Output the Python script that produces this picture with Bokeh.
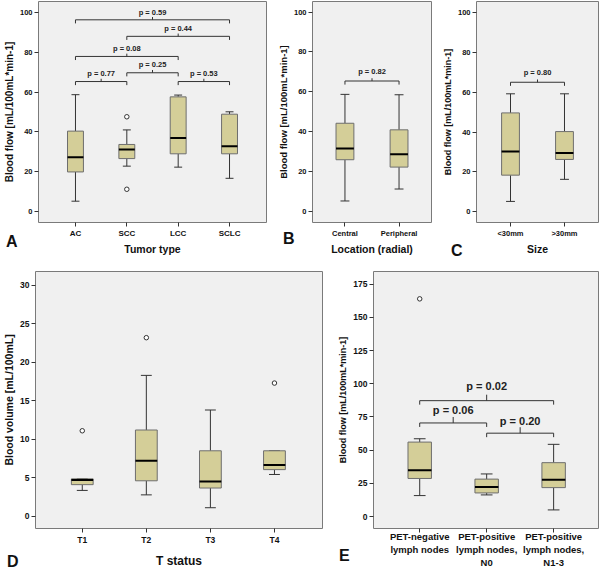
from bokeh.plotting import figure
from bokeh.models import Range1d, FixedTicker, Div
from bokeh.layouts import column, row
from bokeh.embed import file_html
from bokeh.resources import INLINE
from bokeh.core.properties import value

FONT = "Liberation Sans"
BOX_FILL = "#D4CE98"
BOX_LINE = "#6E6E6E"
FRAME_BG = "#F0F0F0"
FRAME_LINE = "#7A7A7A"
WHISK = "#333333"
BRK = "#333333"

# ---------------- Panel A: Tumor type ----------------
a_cats = ["AC", "SCC", "LCC", "SCLC"]
a_wlo = [5.2, 22.8, 22.3, 16.7]
a_q1 = [19.9, 26.6, 29.0, 29.0]
a_med = [27.3, 31.2, 37.0, 32.8]
a_q3 = [40.4, 33.7, 57.6, 48.9]
a_whi = [58.7, 41.0, 58.5, 50.1]
a_out_cat = ["SCC", "SCC"]
a_out_val = [47.6, 11.2]
a_p_lab = ["p = 0.77", "p = 0.25", "p = 0.53", "p = 0.08", "p = 0.44", "p = 0.59"]
a_p_from = ["AC", "SCC", "LCC", "AC", "SCC", "AC"]
a_p_to = ["SCC", "LCC", "SCLC", "LCC", "SCLC", "SCLC"]
a_p_line = [65.3, 69.7, 65.3, 77.9, 88.0, 96.3]
a_p_text = [69.5, 73.7, 69.5, 82.0, 92.0, 99.8]

# ---------------- Panel B: Location ----------------
b_cats = ["Central", "Peripheral"]
b_wlo = [5.2, 11.2]
b_q1 = [25.9, 22.2]
b_med = [31.5, 28.7]
b_q3 = [44.2, 40.9]
b_whi = [58.7, 58.5]
b_p_lab = ["p = 0.82"]
b_p_from = ["Central"]
b_p_to = ["Peripheral"]
b_p_line = [65.4]
b_p_text = [70.2]

# ---------------- Panel C: Size ----------------
c_cats = ["<30mm", ">30mm"]
c_wlo = [5.2, 16.3]
c_q1 = [18.4, 26.3]
c_med = [30.3, 29.5]
c_q3 = [49.7, 40.3]
c_whi = [59.3, 59.3]
c_p_lab = ["p = 0.80"]
c_p_from = ["<30mm"]
c_p_to = [">30mm"]
c_p_line = [65.1]
c_p_text = [70.0]

# ---------------- Panel D: T status ----------------
d_cats = ["T1", "T2", "T3", "T4"]
d_wlo = [3.35, 2.77, 1.1, 5.42]
d_q1 = [4.1, 4.6, 3.66, 6.05]
d_med = [4.7, 7.2, 4.5, 6.65]
d_q3 = [4.85, 11.2, 8.5, 8.5]
d_whi = [4.85, 18.3, 13.8, 8.5]
d_out_cat = ["T1", "T2", "T4"]
d_out_val = [11.1, 23.2, 17.3]

# ---------------- Panel E: PET lymph nodes ----------------
e_cats = ["PET-negative lymph nodes", "PET-positive lymph nodes, N0", "PET-positive lymph nodes, N1-3"]
e_ticks = ["PET-negative\nlymph nodes", "PET-positive\nlymph nodes,\nN0", "PET-positive\nlymph nodes,\nN1-3"]
e_wlo = [15.8, 16.3, 5.0]
e_q1 = [28.7, 17.8, 21.8]
e_med = [34.9, 22.3, 27.7]
e_q3 = [56.1, 28.2, 40.6]
e_whi = [58.6, 32.1, 54.4]
e_out_cat = ["PET-negative lymph nodes"]
e_out_val = [164.0]
e_p_lab = ["p = 0.06", "p = 0.20", "p = 0.02"]
e_p_from = [e_cats[0], e_cats[1], e_cats[0]]
e_p_to = [e_cats[1], e_cats[2], e_cats[2]]
e_p_line = [70.5, 62.8, 87.3]
e_p_text = [80.1, 71.7, 98.2]

panel_letters = ["A", "B", "C", "D", "E"]


def make_panel(cats, tick_text, wlo, q1, med, q3, whi, out_c, out_v,
               p_lab, p_from, p_to, p_line, p_text,
               W, H, bl, br, bt, bb, xr, yr, yticks,
               ylabel, xlabel, xtick_size, ytick_size, ylab_size, xlab_size,
               p_size, box_w, drop, tip, out_size=4.5, lab_standoff=2, axl_standoff=2):
    p = figure(width=W, height=H, output_backend="svg", toolbar_location=None,
               x_range=Range1d(*xr), y_range=Range1d(*yr),
               min_border_left=bl, min_border_right=br,
               min_border_top=bt, min_border_bottom=bb)
    p.background_fill_color = FRAME_BG
    p.border_fill_color = "white"
    p.outline_line_color = FRAME_LINE
    p.outline_line_width = 1
    p.grid.visible = False

    xs = list(range(len(cats)))
    cw = box_w * 0.5
    p.segment(x0=xs, y0=q3, x1=xs, y1=whi, line_color=WHISK, line_width=1)
    p.segment(x0=xs, y0=wlo, x1=xs, y1=q1, line_color=WHISK, line_width=1)
    p.segment(x0=[x - cw / 2 for x in xs], y0=whi, x1=[x + cw / 2 for x in xs], y1=whi,
              line_color=WHISK, line_width=1)
    p.segment(x0=[x - cw / 2 for x in xs], y0=wlo, x1=[x + cw / 2 for x in xs], y1=wlo,
              line_color=WHISK, line_width=1)
    p.vbar(x=xs, width=box_w, top=q3, bottom=q1, fill_color=BOX_FILL,
           line_color=BOX_LINE, line_width=1)
    p.segment(x0=[x - box_w / 2 for x in xs], y0=med, x1=[x + box_w / 2 for x in xs], y1=med,
              line_color="black", line_width=2)
    if out_c:
        p.scatter(x=[cats.index(c) for c in out_c], y=out_v, marker="circle", size=out_size,
                  fill_color="white", line_color=WHISK, line_width=1)
    if p_lab:
        bx, by, tx = [], [], []
        for f, t, yl in zip(p_from, p_to, p_line):
            a, b = cats.index(f), cats.index(t)
            m = (a + b) / 2
            bx.append([a, a, b, b])
            by.append([yl - drop, yl, yl, yl - drop])
            bx.append([m, m])
            by.append([yl, yl + tip])
            tx.append(m)
        p.multi_line(xs=bx, ys=by, line_color=BRK, line_width=1)
        p.text(x=tx, y=p_text, text=p_lab, text_align="center", text_baseline="middle",
               text_font=value(FONT), text_font_style="bold",
               text_font_size=value(f"{p_size}px"), text_color="#222222")

    p.xaxis.ticker = FixedTicker(ticks=xs)
    p.xaxis.major_label_overrides = {i: t for i, t in enumerate(tick_text)}
    p.yaxis.ticker = FixedTicker(ticks=yticks)
    for ax in (p.xaxis, p.yaxis):
        ax.axis_line_color = None
        ax.major_tick_line_color = WHISK
        ax.major_tick_out = 4
        ax.major_tick_in = 0
        ax.minor_tick_line_color = None
        ax.major_label_text_font = FONT
        ax.major_label_text_font_style = "bold"
        ax.major_label_text_color = "#111111"
        ax.axis_label_text_font = FONT
        ax.axis_label_text_font_style = "bold"
        ax.axis_label_text_color = "#111111"
        ax.major_label_standoff = 2
        ax.axis_label_standoff = 2
    p.xaxis.major_label_standoff = lab_standoff
    p.xaxis.axis_label_standoff = axl_standoff
    p.xaxis.major_label_text_font_size = f"{xtick_size}px"
    p.yaxis.major_label_text_font_size = f"{ytick_size}px"
    p.yaxis.axis_label = ylabel
    p.yaxis.axis_label_text_font_size = f"{ylab_size}px"
    if xlabel:
        p.xaxis.axis_label = xlabel
        p.xaxis.axis_label_text_font_size = f"{xlab_size}px"
    return p


YL = "Blood flow [mL/100mL*min-1]"

pA = make_panel(a_cats, a_cats, a_wlo, a_q1, a_med, a_q3, a_whi, a_out_cat, a_out_val,
                a_p_lab, a_p_from, a_p_to, a_p_line, a_p_text,
                272, 258, 34, 6, 1, 36, (-0.72, 3.72), (-5.5, 105.5), [0, 20, 40, 60, 80, 100],
                YL, "Tumor type", 8, 7.5, 10, 10.5, 7.5, 0.31, 1.8, 1.4)

pB = make_panel(b_cats, b_cats, b_wlo, b_q1, b_med, b_q3, b_whi, [], [],
                b_p_lab, b_p_from, b_p_to, b_p_line, b_p_text,
                165, 258, 40, 6, 1, 35, (-0.6, 1.6), (-5.6, 105.3), [0, 20, 40, 60, 80, 100],
                YL, "Location (radial)", 7.5, 7.5, 9.5, 10.5, 7.5, 0.33, 1.8, 1.4)

pC = make_panel(c_cats, c_cats, c_wlo, c_q1, c_med, c_q3, c_whi, [], [],
                c_p_lab, c_p_from, c_p_to, c_p_line, c_p_text,
                163, 258, 39, 2, 1, 30, (-0.63, 1.63), (-5.4, 105.7), [0, 20, 40, 60, 80, 100],
                YL, "Size", 7.5, 7.5, 9, 10.5, 7.5, 0.33, 1.8, 1.4)

pD = make_panel(d_cats, d_cats, d_wlo, d_q1, d_med, d_q3, d_whi, d_out_cat, d_out_val,
                [], [], [], [], [],
                330, 312, 35, 8, 13, 36, (-0.73, 3.75), (-1.6, 31.8), [0, 5, 10, 15, 20, 25, 30],
                "Blood volume [mL/100mL]", "T status", 8.5, 8.5, 10.5, 12, 7.5, 0.34, 0.3, 0.3,
                lab_standoff=2, axl_standoff=6)

pE = make_panel(e_cats, e_ticks, e_wlo, e_q1, e_med, e_q3, e_whi, e_out_cat, e_out_val,
                e_p_lab, e_p_from, e_p_to, e_p_line, e_p_text,
                270, 312, 43, 2, 13, 36, (-0.69, 2.67), (-9.0, 184.6), [0, 25, 50, 75, 100, 125, 150, 175],
                YL, None, 9.5, 8.5, 9, 10, 11, 0.35, 3.0, 4.5, lab_standoff=-2)

layout = column(row(pA, pB, pC, spacing=0), row(pD, pE, spacing=0), spacing=0)

# panel letters, placed in the page margins outside the plot frames
letter_pos = [(1, 226), (278, 223), (446, 235), (2, 546), (334, 540)]
for letter, (lx, ly) in zip(panel_letters, letter_pos):
    layout.children.append(Div(text=letter, styles={
        "position": "absolute", "left": f"{lx}px", "top": f"{ly}px",
        "font-size": "16px", "font-weight": "bold", "font-family": FONT, "color": "#111111"}))

open("out.html", "w").write(file_html(layout, INLINE))
